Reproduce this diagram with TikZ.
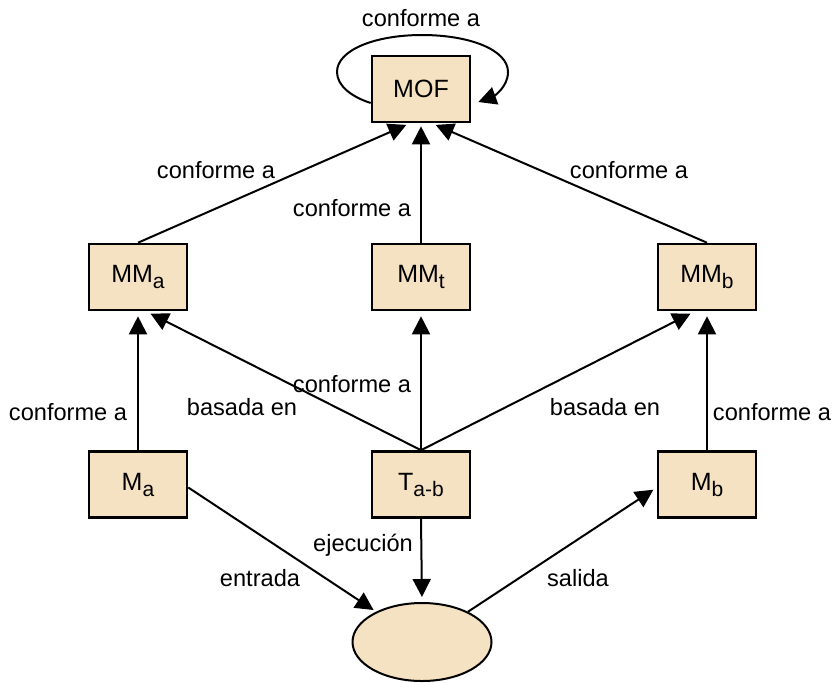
\documentclass[tikz,border=0pt]{standalone}
\usepackage{fontspec}
\setmainfont{Liberation Sans}
\usepackage{tikz}
\usetikzlibrary{arrows.meta}
\usetikzlibrary{calc}
\usetikzlibrary{shapes.geometric}
\definecolor{boxfill}{RGB}{245,226,194}
\newcommand{\SUB}[1]{\raisebox{-3pt}{\fontsize{10.5pt}{12pt}\selectfont #1}}

\begin{document}
\begin{tikzpicture}[x=0.5pt,y=-0.5pt,line width=1pt,>={Triangle[length=9pt,width=9pt]},font=\fontsize{11.8pt}{14pt}\selectfont]
		\tikzstyle{box}=[rectangle,fill=boxfill,draw=black,line width=1.3pt,minimum width=49pt,minimum height=33pt,inner sep=0pt,font=\fontsize{12.5pt}{15pt}\selectfont]
		\tikzstyle{blob}=[ellipse,fill=boxfill,draw=black,line width=1pt,minimum width=69.5pt,minimum height=39pt,inner sep=0pt]
		\tikzstyle{lbl}=[inner sep=0pt]
		\useasboundingbox (0,0) rectangle (835,682);

		% Draw the models
		\node[box] (MOF) at (421,89) {MOF};
		\node[box] (MMa) at (138,277) {MM\SUB{a}};
		\node[box] (MMt) at (421,277) {MM\SUB{t}};
		\node[box] (MMb) at (707,277) {MM\SUB{b}};
		\node[box] (Ma) at (138,484.5) {M\SUB{a}};
		\node[box] (Tab) at (421,484.5) {T\SUB{a-b}};
		\node[box] (Mb) at (707,484.5) {M\SUB{b}};
		\node[blob] (out) at (422,642) {};

		% Draw labels
		\node[lbl] (lmof) at (421,18) {conforme a};
		\node[lbl] (lmma) at (216,170) {conforme a};
		\node[lbl] (lmmt) at (352,208) {conforme a};
		\node[lbl] (lmmb) at (629,170) {conforme a};
		\node[lbl] (lma) at (68,412) {conforme a};
		\node[lbl] (lbasa) at (242,407) {basada en};
		\node[lbl] (ltab) at (352,384) {conforme a};
		\node[lbl] (lbasb) at (605,407) {basada en};
		\node[lbl] (lmb) at (772,412) {conforme a};
		\node[lbl] (lejec) at (363,545) {ejecución};
		\node[lbl] (lent) at (260,578) {entrada};
		\node[lbl] (lsal) at (578,578) {salida};

		% Draw arrows
		\draw[->] ([yshift=-7pt]MOF.west) .. controls (352,97) and (337,86) .. (337,72) .. controls (337,50) and (375,35) .. (422,35) .. controls (470,35) and (508,50) .. (508,72) .. controls (508,88) and (492,97) .. ([xshift=3.5pt,yshift=-6.5pt]MOF.east);
		\path[->, shorten >=2pt] (MMa.north) edge ($(MOF.south)+(-11,0)$);
		\path[->, shorten >=1.5pt] (MMt.north) edge (MOF.south);
		\path[->, shorten >=2pt] (MMb.north) edge ($(MOF.south)+(11,0)$);
		\path[->, shorten >=2.5pt] (Ma.north) edge (MMa.south);
		\path[->, shorten >=2.5pt] (Tab.north) edge ($(MMa.south)+(8,0)$);
		\path[->, shorten >=2.5pt] (Tab.north) edge (MMt.south);
		\path[->, shorten >=2.5pt] (Tab.north) edge ($(MMb.south)+(-12,0)$);
		\path[->, shorten >=2.5pt] (Mb.north) edge (MMb.south);
		\path[->, shorten >=1.5pt] ($(Ma.east)+(0,3)$) edge (out);
		\path[->, shorten >=2.5pt] (Tab.south) edge (out.north);
		\path[->, shorten >=2pt] (out) edge ($(Mb.west)+(0,3)$);

		\end{tikzpicture}
\end{document}
